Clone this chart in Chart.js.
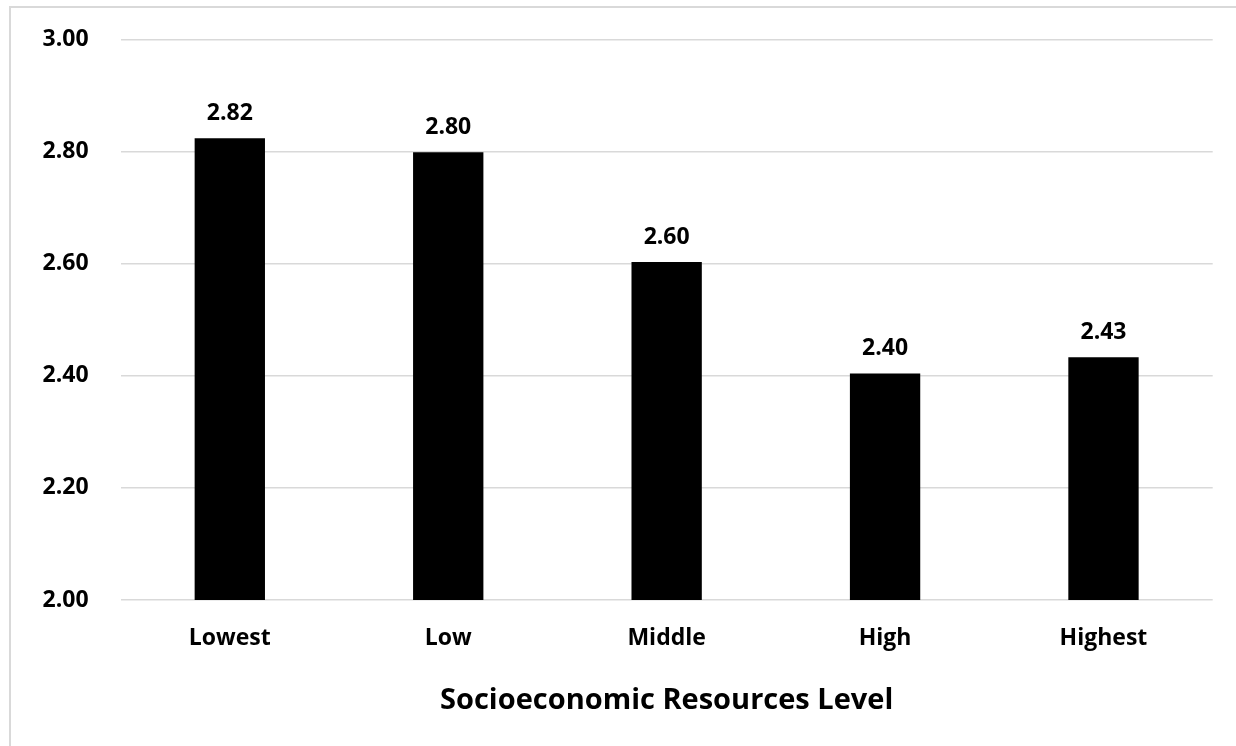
<!DOCTYPE html>
<html>
<head>
<meta charset="utf-8">
<script src="https://cdn.jsdelivr.net/npm/chart.js@4.4.1/dist/chart.umd.min.js"></script>
<style>
  html, body { margin: 0; padding: 0; background: #fff; overflow: hidden; }
  #wrap { position: relative; width: 1236px; height: 746px; }
  #frame { position: absolute; left: 9px; top: 6px; width: 1300px; height: 800px;
           border-top: 2px solid #d9d9d9; border-left: 2px solid #d9d9d9; box-sizing: border-box; }
  canvas { position: absolute; left: 0; top: 0; }
</style>
</head>
<body>
<div id="wrap">
  <div id="frame"></div>
  <canvas id="c" width="1236" height="746"></canvas>
</div>
<script>
const categories = ["Lowest", "Low", "Middle", "High", "Highest"];
const values = [2.824, 2.799, 2.603, 2.404, 2.433];
const yTicks = [2.00, 2.20, 2.40, 2.60, 2.80, 3.00];
const axisTitle = "Socioeconomic Resources Level";

const FONT = "'Open Sans', Lato, sans-serif";

const dataLabels = {
  id: 'dataLabels',
  afterDatasetsDraw(chart) {
    const ctx = chart.ctx;
    const meta = chart.getDatasetMeta(0);
    ctx.save();
    ctx.font = "bold 23px " + FONT;
    ctx.fillStyle = "#000";
    ctx.textAlign = "center";
    ctx.textBaseline = "middle";
    meta.data.forEach((bar, i) => {
      ctx.fillText(values[i].toFixed(2), bar.x, bar.y - 25);
    });
    ctx.restore();
  }
};

new Chart(document.getElementById('c'), {
  type: 'bar',
  data: {
    labels: categories,
    datasets: [{
      data: values,
      backgroundColor: '#000000',
      borderWidth: 0,
      barPercentage: 0.322,
      categoryPercentage: 1.0
    }]
  },
  options: {
    responsive: false,
    animation: false,
    devicePixelRatio: 1,
    layout: { padding: { top: 39.5, right: 23.3, left: 0, bottom: 0 } },
    plugins: { legend: { display: false }, tooltip: { enabled: false } },
    scales: {
      x: {
        grid: { display: false, drawTicks: false },
        border: { display: false },
        ticks: { color: '#000', font: { family: FONT, size: 23, weight: 'bold' }, padding: 25 },
        title: {
          display: true, text: axisTitle, color: '#000',
          font: { family: FONT, size: 29, weight: 'bold' },
          padding: { top: 0, bottom: 28 }
        },
        afterFit(scale) { scale.height = 146; scale.paddingLeft = 0; scale.paddingRight = 0; }
      },
      y: {
        min: 2.0, max: 3.0,
        afterBuildTicks(scale) { scale.ticks = yTicks.map(v => ({ value: v })); },
        grid: { color: '#d9d9d9', lineWidth: 1.5, drawTicks: false },
        border: { display: false },
        ticks: {
          color: '#000', font: { family: FONT, size: 23, weight: 'bold' }, padding: 32,
          callback: v => Number(v).toFixed(2)
        },
        afterFit(scale) { scale.width = 120.6; scale.paddingTop = 0; scale.paddingBottom = 0; }
      }
    }
  },
  plugins: [dataLabels]
});
</script>
</body>
</html>
